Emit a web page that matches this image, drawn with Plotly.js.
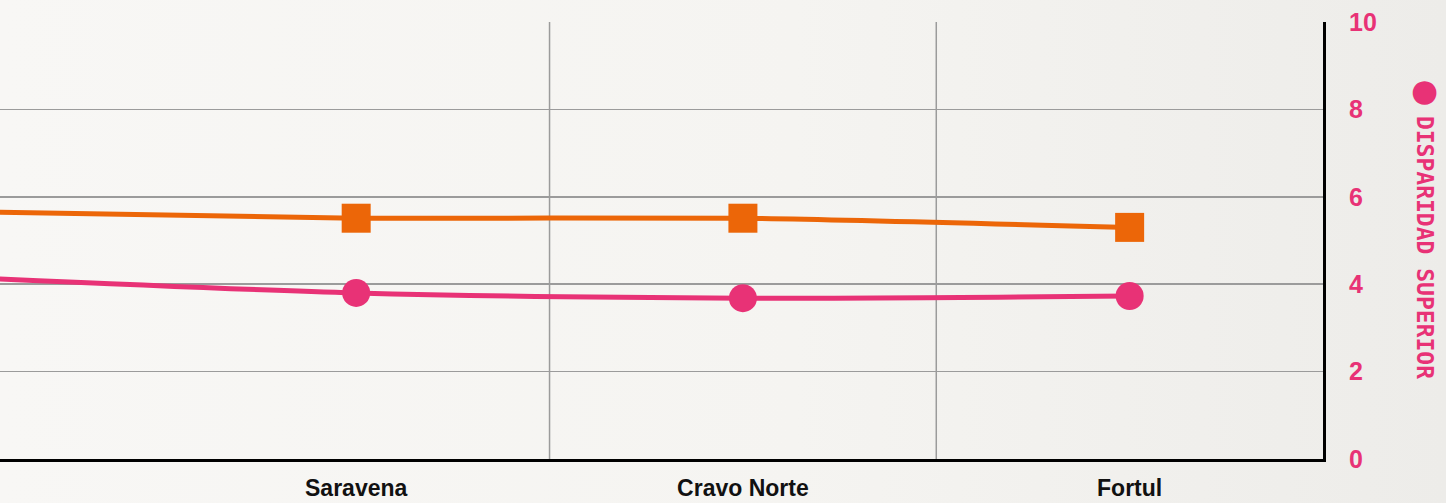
<!DOCTYPE html>
<html>
<head>
<meta charset="utf-8">
<script src="https://cdn.plot.ly/plotly-3.0.1.min.js"></script>
<style>
  html, body { margin:0; padding:0; }
  body { width:1446px; height:503px; background: linear-gradient(to right, #f8f7f5 0%, #f5f4f1 55%, #edece9 100%); }
  #chart { width:1446px; height:503px; }
</style>
</head>
<body>
<div id="chart"></div>
<script>
// Categories (the first one lies outside the visible window, cropped on the left)
const categories = ["Arauquita", "Saravena", "Cravo Norte", "Fortul"];
// Series values
const seriesOrange = [5.66, 5.51, 5.51, 5.30];
const seriesPink   = [4.15, 3.80, 3.68, 3.73];
const yTicks = [0, 2, 4, 6, 8, 10];
const yTitle = "DISPARIDAD SUPERIOR";

const ORANGE = "#ec6608";
const PINK = "#e83276";
const labelFont = "'Liberation Sans', Arial, sans-serif";

const traces = [
  {
    x: categories, y: seriesOrange, type: "scatter", mode: "lines+markers",
    line: {color: ORANGE, width: 5, shape: "spline", smoothing: 0.6},
    marker: {symbol: "square", size: 29, color: ORANGE},
    showlegend: false, hoverinfo: "skip"
  },
  {
    x: categories, y: seriesPink, type: "scatter", mode: "lines+markers",
    line: {color: PINK, width: 5, shape: "spline", smoothing: 0.8},
    marker: {symbol: "circle", size: 28, color: PINK},
    showlegend: false, hoverinfo: "skip"
  }
];

const layout = {
  width: 1446, height: 503,
  margin: {l: 0, r: 123, t: 22, b: 44},
  paper_bgcolor: "rgba(0,0,0,0)",
  plot_bgcolor: "rgba(0,0,0,0)",
  xaxis: {
    type: "category",
    range: [0.079, 3.5],
    showgrid: false, zeroline: false,
    showline: true, linecolor: "#000", linewidth: 3,
    ticks: "", ticklabelstandoff: 6,
    tickfont: {family: labelFont, size: 23, color: "#111", weight: "bold"}
  },
  yaxis: {
    side: "right",
    range: [0, 10],
    tickvals: yTicks,
    showgrid: true, gridcolor: "#9b9b9b", gridwidth: 1.5,
    zeroline: false,
    showline: true, linecolor: "#000", linewidth: 3,
    ticks: "", ticklabelstandoff: 18,
    tickfont: {family: labelFont, size: 25, color: PINK, weight: "bold"}
  },
  shapes: [1.5, 2.5].map(v => ({
    type: "line", xref: "x", yref: "paper", x0: v, x1: v, y0: 0, y1: 1,
    line: {color: "#9b9b9b", width: 1.5}, layer: "below"
  })),
  annotations: [
    {
      xref: "paper", yref: "paper", x: 1.0766, y: 0.845,
      text: "●", showarrow: false,
      font: {size: 31, color: PINK, family: "DejaVu Sans"},
      xanchor: "center", yanchor: "middle"
    },
    {
      xref: "paper", yref: "paper", x: 1.0766, y: 0.79,
      text: yTitle, showarrow: false, textangle: 90,
      font: {size: 23, color: PINK, family: "'DejaVu Sans Mono', monospace", weight: "bold"},
      xanchor: "center", yanchor: "top"
    }
  ]
};

Plotly.newPlot("chart", traces, layout, {staticPlot: true, displayModeBar: false});
</script>
</body>
</html>
